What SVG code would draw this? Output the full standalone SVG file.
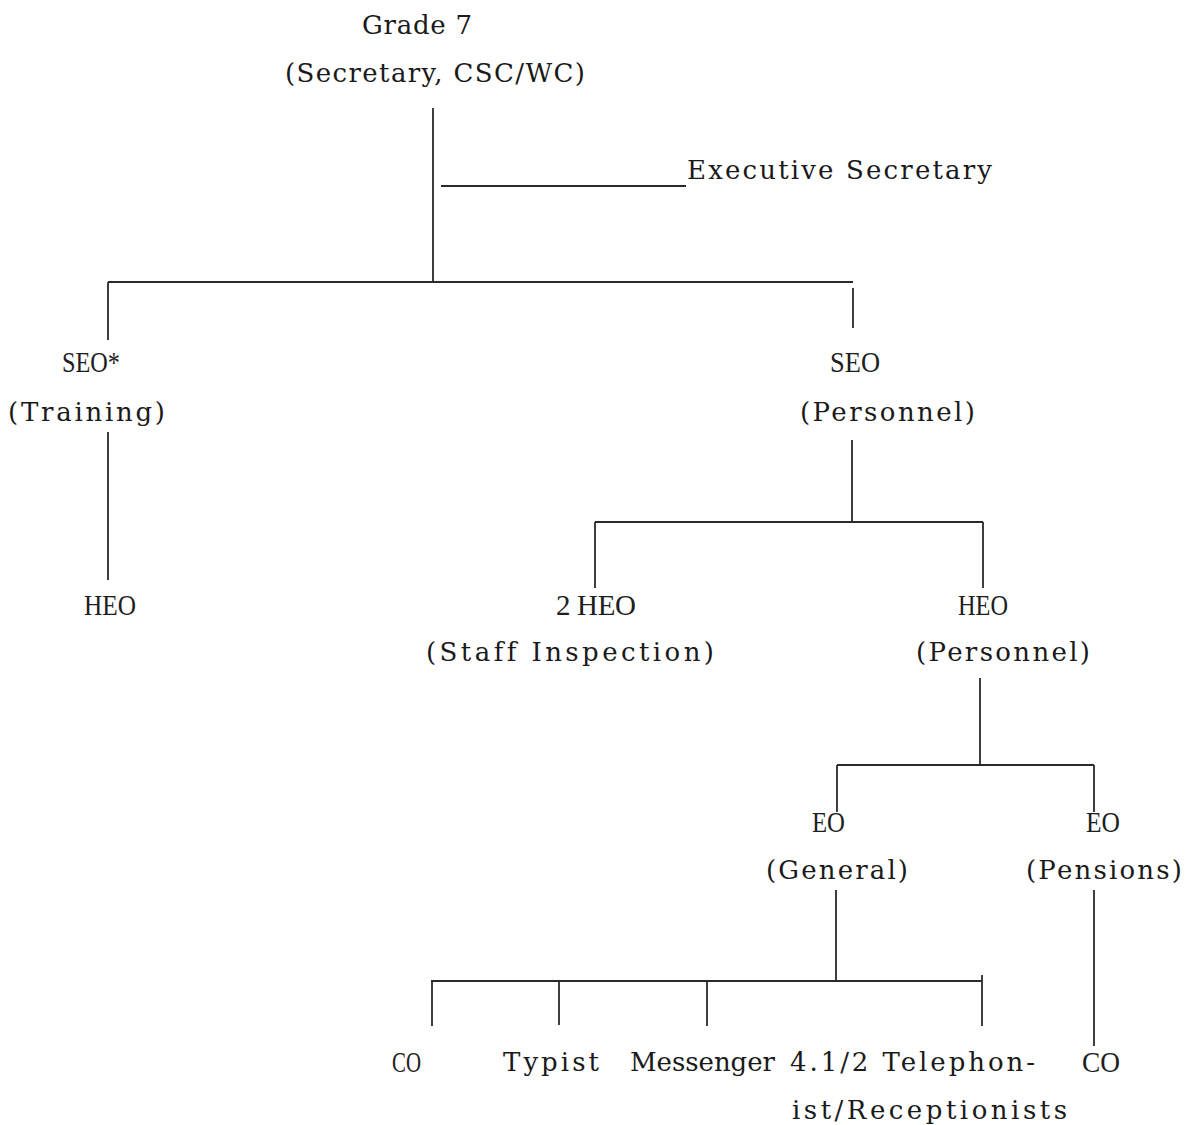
<svg xmlns="http://www.w3.org/2000/svg" width="1198" height="1125" viewBox="0 0 1198 1125">
  <style>
    /* typewritten lines: serif face, fixed pitch via textLength */
    .t { font-family: "DejaVu Serif", "Liberation Serif", serif; font-size: 26px; fill: #1a1a1a; font-variant-ligatures: none; }
    /* grade abbreviations set in a narrower face */
    .g { font-family: "Liberation Serif", "Times New Roman", serif; font-size: 29px; fill: #1e1e1e; }
    .c line { stroke: #2a2a2a; stroke-width: 1.8; stroke-linecap: butt; }
  </style>
  <rect width="1198" height="1125" fill="#ffffff"/>

  <!-- connectors -->
  <g id="connectors" class="c">
    <line x1="433" y1="108" x2="433" y2="282"/>
    <line x1="441" y1="186" x2="686" y2="186"/>
    <line x1="108" y1="282" x2="853" y2="282"/>
    <line x1="108" y1="282" x2="108" y2="340"/>
    <line x1="853" y1="288" x2="853" y2="328"/>
    <line x1="108" y1="432" x2="108" y2="580"/>
    <line x1="852" y1="440" x2="852" y2="522"/>
    <line x1="595" y1="522" x2="983" y2="522"/>
    <line x1="595" y1="522" x2="595" y2="588"/>
    <line x1="983" y1="522" x2="983" y2="588"/>
    <line x1="980" y1="678" x2="980" y2="765"/>
    <line x1="837" y1="765" x2="1094" y2="765"/>
    <line x1="837" y1="765" x2="837" y2="812"/>
    <line x1="1094" y1="765" x2="1094" y2="812"/>
    <line x1="836" y1="890" x2="836" y2="980"/>
    <line x1="431" y1="981" x2="982" y2="981"/>
    <line x1="432" y1="981" x2="432" y2="1026"/>
    <line x1="559" y1="981" x2="559" y2="1025"/>
    <line x1="707" y1="981" x2="707" y2="1026"/>
    <line x1="982" y1="975" x2="982" y2="1026"/>
    <line x1="1094" y1="890" x2="1094" y2="1046"/>
  </g>

  <!-- top post -->
  <g id="grade7">
    <text class="t" x="362" y="34" textLength="110" lengthAdjust="spacing">Grade 7</text>
    <text class="t" x="285" y="82" textLength="300" lengthAdjust="spacing">(Secretary, CSC/WC)</text>
  </g>

  <g id="exec-secretary">
    <text class="t" x="687" y="179" textLength="305" lengthAdjust="spacing">Executive Secretary</text>
  </g>

  <g id="seo-training">
    <text class="g" x="62" y="372" textLength="58" lengthAdjust="spacingAndGlyphs">SEO*</text>
    <text class="t" x="8" y="421" textLength="157" lengthAdjust="spacing">(Training)</text>
  </g>

  <g id="seo-personnel">
    <text class="g" x="830" y="372" textLength="50" lengthAdjust="spacingAndGlyphs">SEO</text>
    <text class="t" x="800" y="421" textLength="175" lengthAdjust="spacing">(Personnel)</text>
  </g>

  <g id="heo-training">
    <text class="g" x="84" y="615" textLength="52" lengthAdjust="spacingAndGlyphs">HEO</text>
  </g>

  <g id="heo-staff-inspection">
    <text class="g" x="556" y="615" textLength="80" lengthAdjust="spacing">2 HEO</text>
    <text class="t" x="426" y="661" textLength="288" lengthAdjust="spacing">(Staff Inspection)</text>
  </g>

  <g id="heo-personnel">
    <text class="g" x="958" y="615" textLength="50" lengthAdjust="spacingAndGlyphs">HEO</text>
    <text class="t" x="916" y="661" textLength="174" lengthAdjust="spacing">(Personnel)</text>
  </g>

  <g id="eo-general">
    <text class="g" x="812" y="832" textLength="33" lengthAdjust="spacingAndGlyphs">EO</text>
    <text class="t" x="766" y="879" textLength="142" lengthAdjust="spacing">(General)</text>
  </g>

  <g id="eo-pensions">
    <text class="g" x="1086" y="832" textLength="34" lengthAdjust="spacingAndGlyphs">EO</text>
    <text class="t" x="1026" y="879" textLength="156" lengthAdjust="spacing">(Pensions)</text>
  </g>

  <g id="co-general">
    <text class="g" x="392" y="1072" textLength="29" lengthAdjust="spacingAndGlyphs">CO</text>
  </g>

  <g id="typist">
    <text class="t" x="503" y="1071" textLength="96" lengthAdjust="spacing">Typist</text>
  </g>

  <g id="messenger">
    <text class="t" x="630" y="1071" textLength="145" lengthAdjust="spacing">Messenger</text>
  </g>

  <g id="telephonists">
    <text class="t" x="790" y="1071" textLength="245" lengthAdjust="spacing">4.1/2 Telephon-</text>
    <text class="t" x="792" y="1119" textLength="275" lengthAdjust="spacing">ist/Receptionists</text>
  </g>

  <g id="co-pensions">
    <text class="g" x="1082" y="1072" textLength="38" lengthAdjust="spacingAndGlyphs">CO</text>
  </g>
</svg>
